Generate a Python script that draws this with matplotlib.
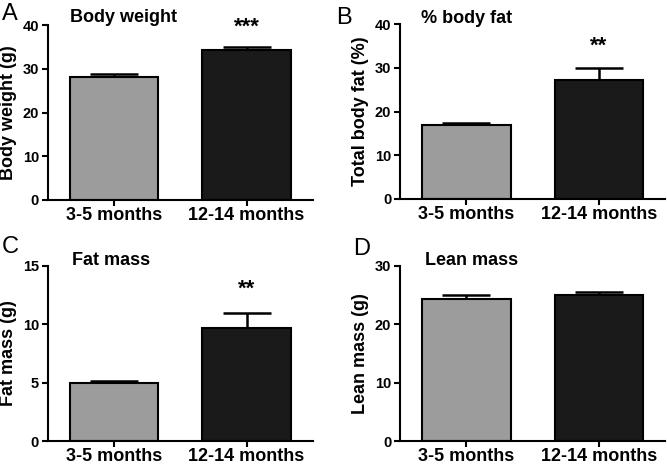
import numpy as np
import matplotlib
matplotlib.use("Agg")
import matplotlib.pyplot as plt

plt.rcParams['font.family'] = ['Liberation Sans', 'DejaVu Sans']

groups = ['3-5 months', '12-14 months']

body_weight = [28.2, 34.3]
body_weight_err = [0.6, 0.6]

body_fat = [17.0, 27.3]
body_fat_err = [0.3, 2.7]

fat_mass = [5.0, 9.65]
fat_mass_err = [0.18, 1.3]

lean_mass = [24.4, 25.05]
lean_mass_err = [0.55, 0.5]

panels = [
    # letter, title, ylabel, values, errors, ymax, yticks, stars, star height
    ('A', 'Body weight', 'Body weight (g)', body_weight, body_weight_err, 40, [0, 10, 20, 30, 40], '***', 39.6),
    ('B', '% body fat', 'Total body fat (%)', body_fat, body_fat_err, 40, [0, 10, 20, 30, 40], '**', 35.0),
    ('C', 'Fat mass', 'Fat mass (g)', fat_mass, fat_mass_err, 15, [0, 5, 10, 15], '**', 13.0),
    ('D', 'Lean mass', 'Lean mass (g)', lean_mass, lean_mass_err, 30, [0, 10, 20, 30], '', 0),
]

# axes boxes in figure fractions (left, bottom, width, height)
boxes = [
    (0.072, 0.571, 0.397, 0.375),
    (0.600, 0.573, 0.397, 0.375),
    (0.072, 0.0535, 0.397, 0.376),
    (0.600, 0.0535, 0.397, 0.376),
]
letter_pos = [(0.003, 0.994), (0.504, 0.985), (0.003, 0.494), (0.529, 0.489)]
title_y = [1.046, 1.034, 1.03, 1.03]
title_x = [0.083, 0.08, 0.09, 0.094]

fig = plt.figure(figsize=(6.67, 4.66), dpi=100)
colors = ['#9c9c9c', '#1a1a1a']

for i, (letter, title, ylab, vals, errs, ymax, yt, stars, star_y) in enumerate(panels):
    ax = fig.add_axes(boxes[i])
    x = np.arange(len(groups))
    ax.bar(x, vals, width=0.667, color=colors, edgecolor='black', linewidth=1.5, zorder=2)
    ax.errorbar(x, vals, yerr=[[0] * len(errs), errs], fmt='none', ecolor='black',
                elinewidth=1.8, capsize=17, capthick=1.8, zorder=1)
    ax.set_xlim(-0.5, 1.5)
    ax.set_ylim(0, ymax)
    ax.set_yticks(yt)
    ax.set_xticks(x)
    ax.set_xticklabels(groups, fontsize=13, fontweight='bold')
    for lab in ax.get_yticklabels():
        lab.set_fontweight('bold')
        lab.set_fontsize(10.5)
    ax.set_ylabel(ylab, fontsize=13, fontweight='bold')
    ax.spines['top'].set_visible(False)
    ax.spines['right'].set_visible(False)
    ax.spines['left'].set_linewidth(1.5)
    ax.spines['bottom'].set_linewidth(1.5)
    ax.tick_params(width=1.5, length=4.5, direction='out')
    ax.tick_params(axis='y', pad=2)
    ax.tick_params(axis='x', pad=0.5)
    ax.text(title_x[i], title_y[i], title, transform=ax.transAxes, fontsize=13,
            fontweight='bold', ha='left', va='center')
    if stars:
        ax.text(1, star_y, stars, fontsize=16, fontweight='bold', ha='center', va='center',
                clip_on=False)
    fig.text(letter_pos[i][0], letter_pos[i][1], letter, fontsize=17, ha='left', va='top')

fig.savefig('out.png', dpi=100)
